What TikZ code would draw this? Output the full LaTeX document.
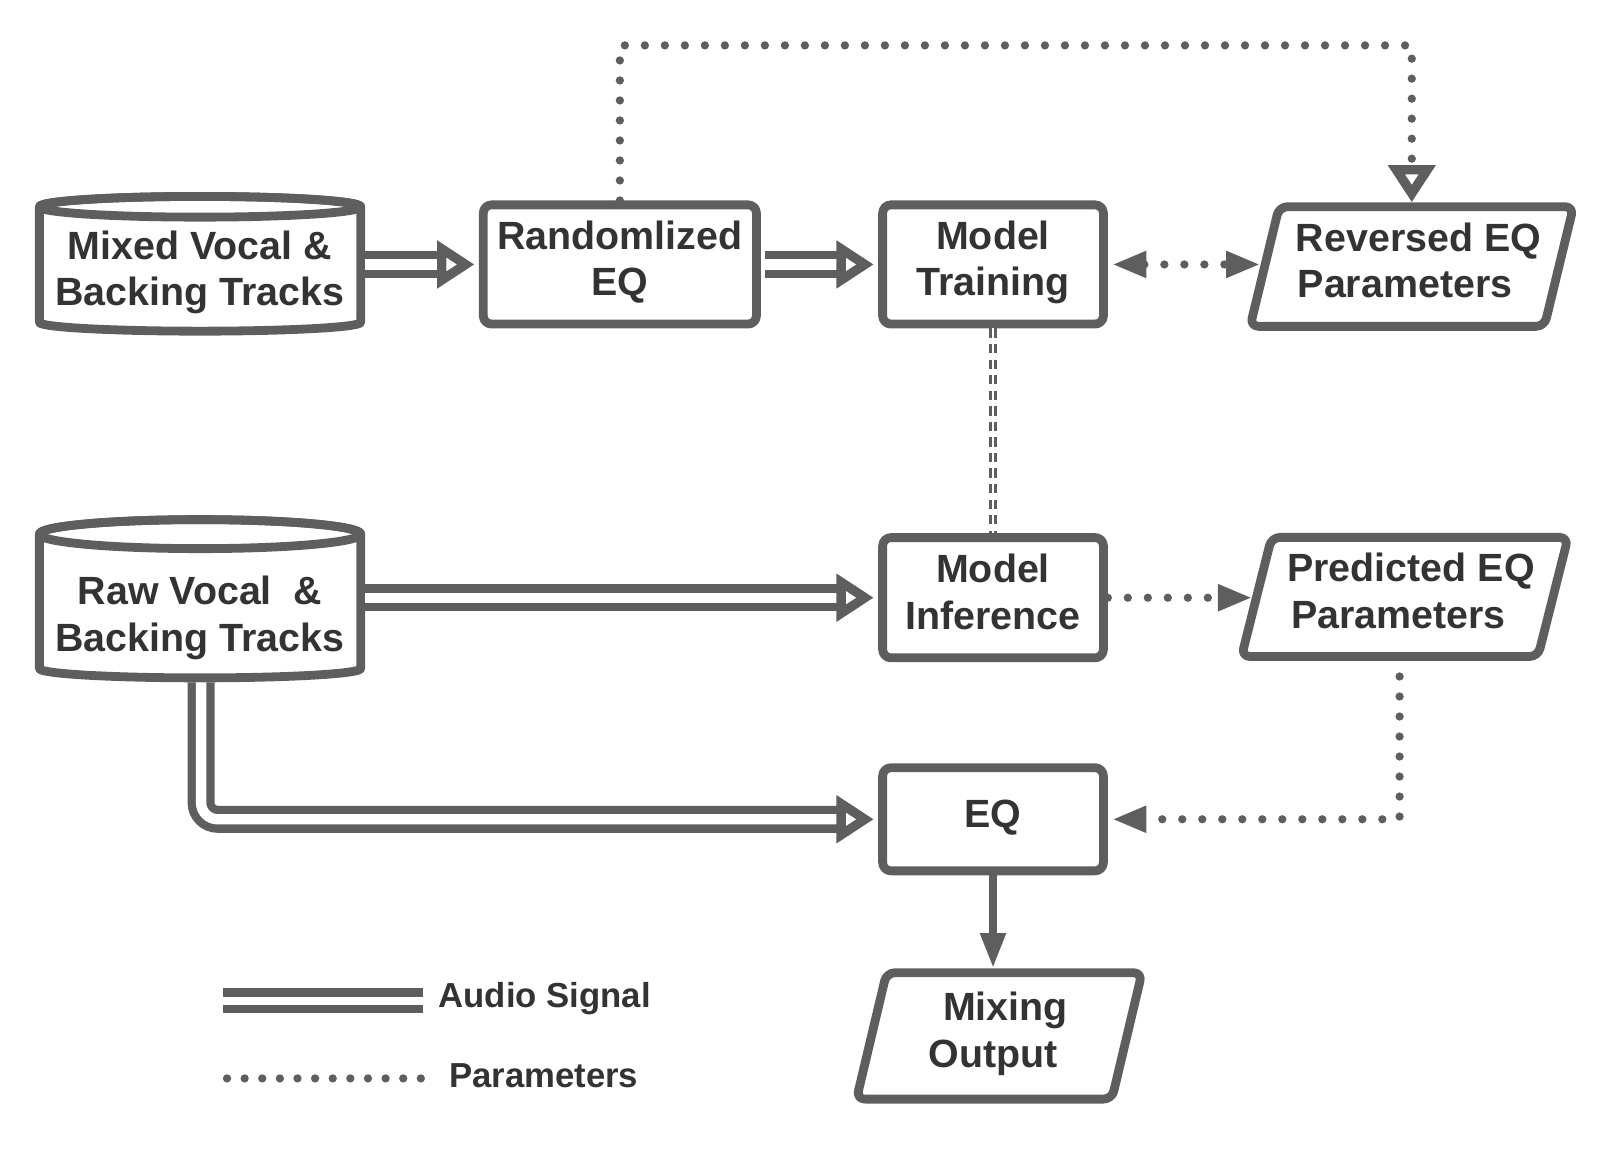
\documentclass[tikz,border=0pt]{standalone}
\usepackage{fontspec}
\setmainfont{Liberation Sans}
\usetikzlibrary{arrows.meta,calc}
\definecolor{lc}{RGB}{94,94,94}
\definecolor{tc}{RGB}{51,51,51}
\newcommand\mainfnt{\fontsize{38}{45}\selectfont\bfseries}
\newcommand\legfnt{\fontsize{33.5}{40}\selectfont\bfseries}
% cylinder: cx, ytop, ybot, rx, rytop, rybot
\newcommand\cylshape[6]{%
  \draw[shapeline, fill=white] (#1-#4,#2) -- (#1-#4,#3)
    arc[start angle=180, end angle=360, x radius=#4, y radius=#6]
    -- (#1+#4,#2)
    arc[start angle=0, end angle=180, x radius=#4, y radius=#5] -- cycle;
  \draw[shapeline] (#1,#2) ellipse[x radius=#4, y radius=#5];}
% parallelogram around a text node: name, slant
\newcommand\paral[2]{%
  \draw[shapeline, rounded corners=8pt]
    ($(#1.south west)+(-#2/2,0)$) -- ($(#1.north west)+(#2/2,0)$) --
    ($(#1.north east)+(#2/2,0)$) -- ($(#1.south east)+(-#2/2,0)$) -- cycle;}
\begin{document}
\begin{tikzpicture}[x=1pt,y=1pt,
  shapeline/.style={draw=lc, line width=8.5pt, line join=round},
  txt/.style={inner sep=0pt, align=center, text=tc, font=\mainfnt, text depth=12pt},
  box/.style={txt, shapeline, rounded corners=8pt, fill=white},
  legtxt/.style={inner sep=0pt, text=tc, font=\legfnt},
  ptip/.tip={Triangle[length=33pt,width=24pt]},
  audio/.style={draw=lc, line width=8pt, double=white, double distance=10pt,
    shorten <=4.25pt, shorten >=4.25pt, -{Triangle[open,length=36pt,width=44pt,line width=15pt]}},
  param/.style={draw=lc, line width=8pt, line cap=round, dash pattern=on 0pt off 19.3pt},
  solidarr/.style={draw=lc, line width=8pt, shorten >=4.25pt, -{Triangle[length=34pt,width=23pt]}},
  dline/.style={draw=lc, line width=2.5pt, double=white, double distance=2.5pt, dash pattern=on 9pt off 6pt}
]
\useasboundingbox (0,0) rectangle (1560,1111.4);

% cylinders
\cylshape{193}{911.9}{800.4}{155}{10}{8.5}
\cylshape{193}{596.1}{466.4}{155}{14}{9}
\node[txt, minimum width=310pt] (mixed) at (193,846.5) {Mixed Vocal \&\\Backing Tracks};
\node[txt, minimum width=310pt] (raw) at (193,513) {Raw Vocal~~\&\\Backing Tracks};

% boxes
\node[box, minimum width=263.5pt, minimum height=115pt] (rand) at (598,856.25) {Randomlized\\EQ};
\node[box, minimum width=213pt, minimum height=115pt] (train) at (958,856.25) {Model\\Training};
\node[box, minimum width=213pt, minimum height=116pt] (infer) at (958,534.75) {Model\\Inference};
\node[box, minimum width=213pt, minimum height=99.5pt, text depth=10pt] (eqbox) at (958,321) {EQ};

% parallelograms
\node[txt, minimum width=283.5pt, minimum height=115pt] (rev) at (1362,854.25) {\hspace*{13pt}Reversed EQ\\Parameters\hspace*{13pt}};
\paral{rev}{28}
\node[txt, minimum width=285.6pt, minimum height=114.5pt] (pred) at (1355.25,535.5) {\hspace*{12pt}Predicted EQ\\Parameters\hspace*{12pt}};
\paral{pred}{29}
\node[txt, minimum width=246pt, minimum height=121.5pt] (mix) at (964,112) {\hspace*{12pt}Mixing\\Output\hspace*{12pt}};
\paral{mix}{29}

% audio connectors
\draw[audio] (rand.west -| mixed.east) -- (rand.west);
\draw[audio] (rand.east) -- (train.west);
\draw[audio] (infer.west -| raw.east) -- (infer.west);
\coordinate (rawb) at (194,457.4);
\draw[audio, rounded corners=16pt] (rawb) |- (eqbox.west);

% parameter connectors
\coordinate (ptop) at (0,1067.6);
\draw[param, -{Triangle[open,length=36pt,width=44pt,line width=15pt]}, shorten >=4.25pt]
  (rand.north) |- (ptop -| rev.north) -- (rev.north);
\draw[param, ptip-ptip, shorten <=4.25pt, shorten >=4.25pt] (train.east) -- (train.east -| rev.west);
\draw[param, -ptip, shorten >=4.25pt] (infer.east) -- (infer.east -| pred.west);
\draw[param, -ptip, shorten >=4.25pt] ([xshift=-5pt]pred.south) |- (eqbox.east);

% other connectors
\draw[solidarr] (eqbox.south) -- (eqbox.south |- mix.north);
\draw[dline] (train.south) -- (infer.north);

% legend
\coordinate (la) at (215,146);
\coordinate (lb) at (408,146);
\draw[draw=lc, line width=8pt, double=white, double distance=8pt] (la) -- (lb);
\node[legtxt, anchor=base west] (laudio) at (423,139.5) {Audio Signal};
\coordinate (lp1) at (219,71);
\coordinate (lp2) at (406,71);
\draw[param, line width=8pt, dash pattern=on 0pt off 17pt] (lp1) -- (lp2);
\node[legtxt, anchor=base west] (lparam) at (433,62) {Parameters};
\end{tikzpicture}
\end{document}
